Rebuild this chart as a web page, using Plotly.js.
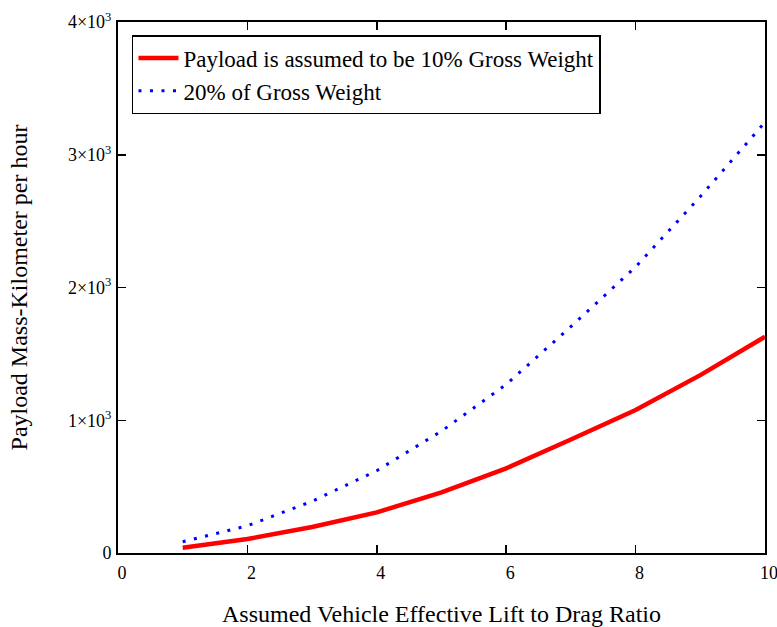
<!DOCTYPE html>
<html>
<head>
<meta charset="utf-8">
<script src="https://cdn.plot.ly/plotly-3.0.1.min.js"></script>
<style>html,body{margin:0;padding:0;background:#fff;}#chart{width:777px;height:627px;}</style>
</head>
<body>
<div id="chart"></div>
<script>
const liftToDrag = [1, 2, 3, 4, 5, 6, 7, 8, 9, 10];
const payload10 = [40, 105, 196, 306, 457, 638, 855, 1077, 1340, 1629];
const payload20 = [85, 205, 390, 620, 918, 1270, 1705, 2155, 2685, 3245];
const seriesNames = ["Payload is assumed to be 10% Gross Weight", "20% of Gross Weight"];
const xTickVals = [0, 2, 4, 6, 8, 10];
const yTickVals = [0, 1000, 2000, 3000, 4000];
const yTickText = ["0", "1×10<sup>3</sup>", "2×10<sup>3</sup>", "3×10<sup>3</sup>", "4×10<sup>3</sup>"];

const font = "'Liberation Serif', 'DejaVu Serif', serif";

const data = [
  {x: liftToDrag, y: payload10, name: seriesNames[0], type: 'scatter', mode: 'lines',
   line: {color: '#ff0000', width: 4.5}},
  {x: liftToDrag, y: payload20, name: seriesNames[1], type: 'scatter', mode: 'lines',
   line: {color: '#0000ff', width: 3, dash: '3px,8.5px'}}
];

const layout = {
  width: 777, height: 627,
  margin: {l: 118, r: 12, t: 22, b: 74},
  paper_bgcolor: '#fff', plot_bgcolor: '#fff',
  font: {family: font, color: '#000', size: 18},
  showlegend: true,
  legend: {x: 0.0216, y: 0.9755, xanchor: 'left', yanchor: 'top',
    bordercolor: '#000', borderwidth: 1.5, bgcolor: '#fff', itemwidth: 40,
    font: {family: font, size: 23, color: '#000'}, tracegroupgap: 0},
  xaxis: {range: [0, 10], tickvals: xTickVals, ticktext: xTickVals.map(String),
    showgrid: false, zeroline: false, showline: true, linecolor: '#000', linewidth: 2,
    mirror: 'ticks', ticks: 'inside', ticklen: 8, tickwidth: 1.5, tickcolor: '#000',
    ticklabelshift: 4, ticklabelstandoff: 2, ticklabeloverflow: 'allow',
    tickfont: {family: font, size: 18, color: '#000'},
    title: {text: 'Assumed Vehicle Effective Lift to Drag Ratio', standoff: 24,
      font: {family: font, size: 24, color: '#000'}}},
  yaxis: {range: [0, 4000], tickvals: yTickVals, ticktext: yTickText,
    showgrid: false, zeroline: false, showline: true, linecolor: '#000', linewidth: 2,
    mirror: 'ticks', ticks: 'inside', ticklen: 8, tickwidth: 1.5, tickcolor: '#000',
    ticklabelstandoff: 1, ticklabeloverflow: 'allow',
    tickfont: {family: font, size: 18, color: '#000'},
    title: {text: 'Payload Mass-Kilometer per hour', standoff: 34,
      font: {family: font, size: 24, color: '#000'}}}
};

Plotly.newPlot('chart', data, layout, {displayModeBar: false, staticPlot: true});
</script>
</body>
</html>
